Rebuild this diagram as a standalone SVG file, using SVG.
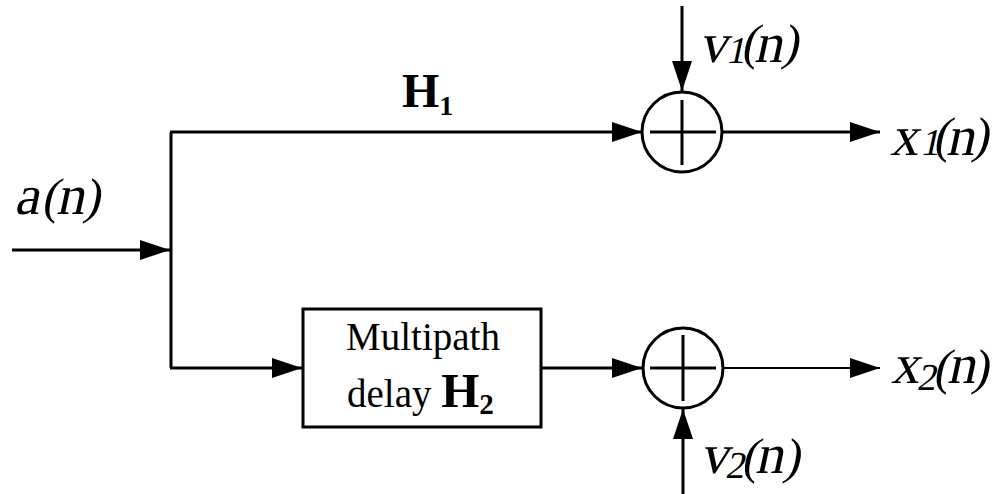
<svg xmlns="http://www.w3.org/2000/svg" width="998" height="494" viewBox="0 0 998 494">
<defs>
<marker id="arr" markerUnits="userSpaceOnUse" markerWidth="30" markerHeight="20" refX="30" refY="10" orient="auto">
<path d="M0,0 L30,10 L0,20 Z" fill="#000"/>
</marker>
<style>
.ln{fill:none;stroke:#000;stroke-width:3}
.thin{fill:none;stroke:#000;stroke-width:2}
.t{font-family:"Liberation Serif","Times New Roman",serif;fill:#000}
.v{font-size:56px}
.p{font-size:50px}
.s{font-size:38px}
.b{font-weight:bold}
</style>
</defs>
<g id="connectors">
<line class="ln" x1="171" y1="132" x2="171" y2="368"/>
<line class="ln" x1="12" y1="250" x2="170" y2="250" marker-end="url(#arr)"/>
<line class="ln" x1="170" y1="132" x2="642" y2="132" marker-end="url(#arr)"/>
<line class="ln" x1="170" y1="368" x2="302" y2="368" marker-end="url(#arr)"/>
<line class="ln" x1="541" y1="368" x2="642" y2="368" marker-end="url(#arr)"/>
<line class="ln" x1="682" y1="6" x2="682" y2="91" marker-end="url(#arr)"/>
<line class="ln" x1="683" y1="494" x2="683" y2="409" marker-end="url(#arr)"/>
<line class="ln" x1="723" y1="132" x2="880" y2="132" marker-end="url(#arr)"/>
<line class="thin" x1="723" y1="368" x2="880" y2="368" marker-end="url(#arr)"/>
</g>
<g id="sum1">
<circle class="ln" cx="682" cy="132" r="40"/>
<line class="ln" x1="650" y1="132" x2="716" y2="132"/>
<line class="ln" x1="682" y1="100" x2="682" y2="165"/>
</g>
<g id="sum2">
<circle class="ln" cx="683" cy="368" r="40"/>
<line class="ln" x1="650" y1="368" x2="716" y2="368"/>
<line class="ln" x1="683" y1="335" x2="683" y2="401"/>
</g>
<g id="h2box">
<rect class="ln" x="303" y="309" width="238" height="118"/>
<text class="t" x="423" y="350" font-size="39" text-anchor="middle">Multipath</text>
<text class="t" x="347" y="407" font-size="39">delay <tspan class="b" font-size="49">H</tspan><tspan class="b" font-size="29" dy="7">2</tspan></text>
</g>
<g id="label-h1">
<text class="t b" x="402" y="107" font-size="48">H<tspan font-size="28" dy="8">1</tspan></text>
</g>
<g id="label-a">
<text class="t" transform="translate(14,214) skewX(-12)"><tspan class="v" x="0" y="0">a</tspan><tspan class="p" x="27" y="-1">(</tspan><tspan class="v" x="42" y="0">n</tspan><tspan class="p" x="69" y="-1">)</tspan></text>
</g>
<g id="label-v1">
<text class="t" transform="translate(699,62) skewX(-12)"><tspan class="v" x="0" y="0">v</tspan><tspan class="s" x="27" y="1">1</tspan><tspan class="p" x="41" y="-3">(</tspan><tspan class="v" x="55" y="0">n</tspan><tspan class="p" x="82" y="-3">)</tspan></text>
</g>
<g id="label-x1">
<text class="t" transform="translate(890,155) skewX(-12)"><tspan class="v" x="0" y="0">x</tspan><tspan class="s" x="30" y="0">1</tspan><tspan class="p" x="42" y="-3">(</tspan><tspan class="v" x="56" y="0">n</tspan><tspan class="p" x="81" y="-3">)</tspan></text>
</g>
<g id="label-x2">
<text class="t" transform="translate(891,383) skewX(-12)"><tspan class="v" x="0" y="0">x</tspan><tspan class="s" x="27" y="7">2</tspan><tspan class="p" x="42" y="1">(</tspan><tspan class="v" x="56" y="0">n</tspan><tspan class="p" x="81" y="1">)</tspan></text>
</g>
<g id="label-v2">
<text class="t" transform="translate(700,473) skewX(-12)"><tspan class="v" x="0" y="0">v</tspan><tspan class="s" x="26" y="5">2</tspan><tspan class="p" x="41" y="0">(</tspan><tspan class="v" x="55" y="0">n</tspan><tspan class="p" x="83" y="0">)</tspan></text>
</g>
</svg>
